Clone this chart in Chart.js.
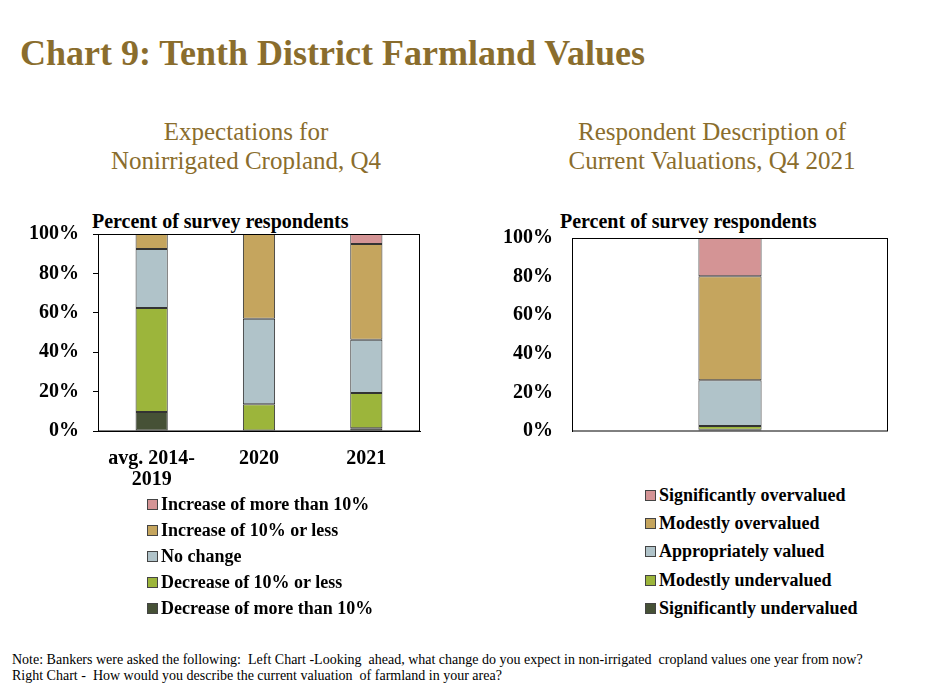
<!DOCTYPE html>
<html>
<head>
<meta charset="utf-8">
<script src="https://cdn.jsdelivr.net/npm/chart.js@4.4.1/dist/chart.umd.min.js"></script>
<style>
  body { margin: 0; background: #fff; }
  #page { position: relative; width: 925px; height: 693px; overflow: hidden; font-family: 'Liberation Serif', serif; }
  .abs { position: absolute; white-space: nowrap; }
  .title { left: 20px; top: 35px; font-size: 36px; line-height: 36px; font-weight: bold; color: #8a6d2d; }
  .sub { top: 117px; font-size: 25px; line-height: 29px; color: #8a6d2d; text-align: center; width: 400px; }
  .unit { top: 211px; font-size: 20px; line-height: 20px; font-weight: bold; }
  .legend { font-size: 18px; font-weight: bold; }
  .legend div { display: flex; align-items: center; }
  .legend span.box { display: inline-block; width: 9px; height: 9px; border: 1px solid #444; margin-right: 3px; }
  .note { left: 12px; top: 652px; font-size: 14px; line-height: 16px; }
  canvas { position: absolute; }
</style>
</head>
<body>
<div id="page">
  <div class="abs title">Chart 9: Tenth District Farmland Values</div>
  <div class="abs sub" style="left:46px">Expectations for<br>Nonirrigated Cropland, Q4</div>
  <div class="abs sub" style="left:512px">Respondent Description of<br>Current Valuations, Q4 2021</div>
  <div class="abs unit" style="left:92px">Percent of survey respondents</div>
  <div class="abs unit" style="left:560px">Percent of survey respondents</div>

  <div style="position:absolute;left:0;top:200px;width:440px;height:300px"><canvas id="leftChart"></canvas></div>
  <div style="position:absolute;left:480px;top:200px;width:440px;height:262px"><canvas id="rightChart"></canvas></div>

  <div class="abs legend" id="leftLegend" style="left:147px;top:492px"></div>
  <div class="abs legend" id="rightLegend" style="left:645px;top:481px"></div>

  <div class="abs note">Note: Bankers were asked the following:&nbsp; Left Chart -Looking&nbsp; ahead, what change do you expect in non-irrigated&nbsp; cropland values one year from now?<br>Right Chart -&nbsp; How would you describe the current valuation&nbsp; of farmland in your area?</div>
</div>

<script>
// Left chart data (percent of respondents)
const leftCategories = [['avg. 2014-', '2019'], '2020', '2021'];
const decreaseMore = [9.7, 0, 1.4];
const decreaseLess = [52.7, 13.6, 17.9];
const noChange = [30.0, 43.4, 27.0];
const increaseLess = [7.6, 43.0, 48.6];
const increaseMore = [0, 0, 5.1];

// Right chart data
const rightCategories = ['Q4 2021'];
const sigUnder = [0.6];
const modUnder = [2.0];
const appropriate = [23.7];
const modOver = [53.9];
const sigOver = [19.8];

const yTicks = [0, 20, 40, 60, 80, 100];

// Colors
const cDark = '#465136';
const cGreen = '#9cb53b';
const cBlue = '#b0c3c9';
const cTan = '#c5a55e';
const cPink = '#d49495';

const tickFont = { family: 'Liberation Serif', size: 20, weight: 'bold' };

// Draw the plot box edges
const boxPlugin = {
  id: 'box',
  afterDraw(chart) {
    const a = chart.chartArea;
    const ctx = chart.ctx;
    ctx.save();
    ctx.strokeStyle = '#000';
    ctx.lineWidth = 1;
    ctx.strokeRect(a.left + 0.5, a.top + 0.5, a.right - a.left - 1, a.bottom - a.top - 0.5);
    ctx.restore();
  }
};

function makeDataset(label, data, color) {
  return {
    label: label,
    data: data,
    backgroundColor: color,
    borderColor: '#333',
    borderWidth: 1,
    borderSkipped: false
  };
}

function buildLegend(id, datasets, rowHeight) {
  const el = document.getElementById(id);
  datasets.slice().reverse().forEach(function(ds) {
    const row = document.createElement('div');
    row.style.height = rowHeight + 'px';
    const box = document.createElement('span');
    box.className = 'box';
    box.style.background = ds.backgroundColor;
    const txt = document.createElement('span');
    txt.textContent = ds.label;
    row.appendChild(box);
    row.appendChild(txt);
    el.appendChild(row);
  });
}

function yScale(width, tickLen, pad) {
  return {
    stacked: true,
    min: 0,
    max: 100,
    afterFit: function(s) { s.width = width; },
    afterBuildTicks: function(s) { s.ticks = yTicks.map(function(v) { return { value: v }; }); },
    ticks: {
      font: tickFont,
      color: '#000',
      padding: pad,
      callback: function(v) { return v + '%'; }
    },
    grid: {
      drawOnChartArea: false,
      drawTicks: tickLen !== 0,
      tickLength: tickLen,
      color: '#000'
    },
    border: { color: '#000', width: 1 }
  };
}

// Left chart
const leftDatasets = [
  makeDataset('Decrease of more than 10%', decreaseMore, cDark),
  makeDataset('Decrease of 10% or less', decreaseLess, cGreen),
  makeDataset('No change', noChange, cBlue),
  makeDataset('Increase of 10% or less', increaseLess, cTan),
  makeDataset('Increase of more than 10%', increaseMore, cPink)
];

new Chart(document.getElementById('leftChart'), {
  type: 'bar',
  data: { labels: leftCategories, datasets: leftDatasets },
  options: {
    responsive: true,
    maintainAspectRatio: false,
    animation: false,
    categoryPercentage: 1,
    barPercentage: 0.3,
    layout: { padding: { left: 0, right: 20, top: 34, bottom: 0 } },
    scales: {
      x: {
        stacked: true,
        afterFit: function(s) { s.height = 69; },
        ticks: { font: Object.assign({}, tickFont, { lineHeight: 1.05 }), color: '#000', padding: 9, maxRotation: 0 },
        grid: { display: false },
        border: { color: '#000', width: 1 }
      },
      y: yScale(98, 5, 14)
    },
    plugins: { legend: { display: false }, tooltip: { enabled: false } }
  },
  plugins: [boxPlugin]
});

// Right chart
const rightDatasets = [
  makeDataset('Significantly undervalued', sigUnder, cDark),
  makeDataset('Modestly undervalued', modUnder, cGreen),
  makeDataset('Appropriately valued', appropriate, cBlue),
  makeDataset('Modestly overvalued', modOver, cTan),
  makeDataset('Significantly overvalued', sigOver, cPink)
];

// bottom space comes from the y label padding (half label + tick padding)
new Chart(document.getElementById('rightChart'), {
  type: 'bar',
  data: { labels: rightCategories, datasets: rightDatasets },
  options: {
    responsive: true,
    maintainAspectRatio: false,
    animation: false,
    categoryPercentage: 1,
    barPercentage: 0.2,
    layout: { padding: { left: 0, right: 32, top: 38, bottom: 0 } },
    scales: {
      x: {
        stacked: true,
        display: false
      },
      y: yScale(92, 0, 19)
    },
    plugins: { legend: { display: false }, tooltip: { enabled: false } }
  },
  plugins: [boxPlugin]
});

buildLegend('leftLegend', leftDatasets, 25.8);
buildLegend('rightLegend', rightDatasets, 28.3);
</script>
</body>
</html>
